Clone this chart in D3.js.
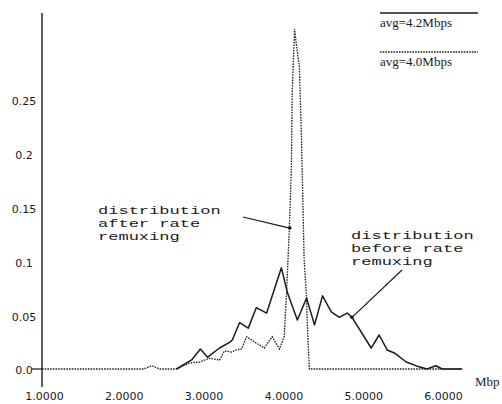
<!DOCTYPE html>
<html>
<head>
<meta charset="utf-8">
<script src="https://cdn.jsdelivr.net/npm/d3@7"></script>
<style>
  html, body { margin: 0; padding: 0; background: #fff; }
  svg { display: block; }
</style>
</head>
<body>
<svg id="chart" width="502" height="404"></svg>
<script>
// Rate distribution before remuxing (solid): [Mbps, fraction]
const beforeX = [2.66, 2.85, 2.96, 3.05, 3.20, 3.33, 3.36, 3.45, 3.56, 3.66, 3.79, 3.975, 4.05, 4.175, 4.29, 4.39, 4.49, 4.60, 4.70, 4.80, 4.86, 5.10, 5.20, 5.30, 5.39, 5.54, 5.70, 5.80, 5.91, 5.99, 6.24];
const beforeY = [0, 0.0084, 0.0186, 0.011, 0.0195, 0.025, 0.027, 0.043, 0.038, 0.057, 0.052, 0.094, 0.071, 0.0455, 0.066, 0.041, 0.068, 0.053, 0.048, 0.052, 0.048, 0.0195, 0.0316, 0.0177, 0.0149, 0.0065, 0.002, 0, 0.003, 0, 0];

// Rate distribution after remuxing (dotted)
const afterX = [0.975, 2.25, 2.35, 2.45, 2.66, 2.825, 2.95, 3.075, 3.20, 3.26, 3.35, 3.41, 3.475, 3.54, 3.64, 3.76, 3.86, 3.95, 4.01, 4.04, 4.075, 4.10, 4.11, 4.14, 4.16, 4.20, 4.225, 4.24, 4.26, 4.29, 4.30, 4.325, 6.24];
const afterY = [0, 0, 0.003, 0, 0, 0.0056, 0.0065, 0.010, 0.0084, 0.0167, 0.0158, 0.0177, 0.0186, 0.030, 0.025, 0.0195, 0.030, 0.0186, 0.030, 0.071, 0.132, 0.188, 0.256, 0.316, 0.303, 0.281, 0.219, 0.169, 0.101, 0.067, 0.041, 0, 0];

const xTicks = [1, 2, 3, 4, 5, 6];
const xTickLabels = ["1.0000", "2.0000", "3.0000", "4.0000", "5.0000", "6.0000"];
const yTicks = [0, 0.05, 0.1, 0.15, 0.2, 0.25];
const yTickLabels = ["0.0", "0.05", "0.1", "0.15", "0.2", "0.25"];

const legendLabels = ["avg=4.2Mbps", "avg=4.0Mbps"];
const noteAfter = ["distribution", "after rate", "remuxing"];
const noteBefore = ["distribution", "before rate", "remuxing"];

const svg = d3.select("#chart");
const x = d3.scaleLinear().domain([1, 6]).range([44, 443]);
const y = d3.scaleLinear().domain([0, 0.25]).range([369, 100]);

const ink = "#1a1a1a";
const dotInk = "#222";
const dotDash = "1.6,1.1";
const axisX = x(0.975);

// vertical axis line
svg.append("line")
  .attr("x1", axisX).attr("x2", axisX)
  .attr("y1", 13).attr("y2", 387)
  .attr("stroke", ink).attr("stroke-width", 1.4);

// zero tick
svg.append("line")
  .attr("x1", axisX - 10).attr("x2", axisX)
  .attr("y1", y(0)).attr("y2", y(0))
  .attr("stroke", ink).attr("stroke-width", 1.2);

// y tick labels
const yAxis = d3.axisLeft(y).tickValues(yTicks).tickSize(0).tickPadding(0)
  .tickFormat((d, i) => yTickLabels[i]);
const gy = svg.append("g").attr("transform", `translate(${axisX},0)`).call(yAxis);
gy.select(".domain").remove();
gy.selectAll("text")
  .attr("text-anchor", "middle")
  .attr("x", -18)
  .attr("dy", "0.45em")
  .attr("font-family", "DejaVu Sans, sans-serif")
  .attr("font-size", 11)
  .attr("fill", ink);

// x tick labels
const xAxis = d3.axisBottom(x).tickValues(xTicks).tickSize(0).tickPadding(23)
  .tickFormat((d, i) => xTickLabels[i]);
const gx = svg.append("g").attr("transform", `translate(0,${y(0)})`).call(xAxis);
gx.select(".domain").remove();
gx.selectAll("text")
  .attr("font-family", "DejaVu Sans, sans-serif")
  .attr("font-size", 11)
  .attr("fill", ink);

svg.append("text")
  .attr("x", 475).attr("y", 386)
  .attr("font-family", "Liberation Serif, serif")
  .attr("font-size", 13)
  .attr("fill", ink)
  .text("Mbp");

const line = d3.line().x(d => x(d[0])).y(d => y(d[1]));
const afterData = afterX.map((v, i) => [v, afterY[i]]);
const beforeData = beforeX.map((v, i) => [v, beforeY[i]]);

svg.append("path")
  .attr("d", line(afterData))
  .attr("fill", "none")
  .attr("stroke", dotInk)
  .attr("stroke-width", 1.3)
  .attr("stroke-dasharray", dotDash);

svg.append("path")
  .attr("d", line(beforeData))
  .attr("fill", "none")
  .attr("stroke", ink)
  .attr("stroke-width", 1.5)
  .attr("stroke-linejoin", "round");

// legend
const legend = svg.append("g");
[0, 1].forEach(i => {
  const ly = 13 + i * 39;
  legend.append("line")
    .attr("x1", 380).attr("x2", 478)
    .attr("y1", ly).attr("y2", ly)
    .attr("stroke", i === 0 ? ink : dotInk)
    .attr("stroke-width", i === 0 ? 1.6 : 1.3)
    .attr("stroke-dasharray", i === 0 ? null : dotDash);
  legend.append("text")
    .attr("x", 380).attr("y", ly + 14)
    .attr("font-family", "Liberation Serif, serif")
    .attr("font-size", 13)
    .attr("fill", ink)
    .text(legendLabels[i]);
});

// annotations: arrow from a text block to a point on a curve
function annotate(lines, tx, ty, tip, tail) {
  const px = x(tip[0]), py = y(tip[1]);
  svg.append("line")
    .attr("x1", tail[0]).attr("y1", tail[1])
    .attr("x2", px).attr("y2", py)
    .attr("stroke", ink).attr("stroke-width", 1.2);
  svg.append("circle")
    .attr("cx", px).attr("cy", py).attr("r", 1.8)
    .attr("fill", ink);
  const g = svg.append("g")
    .attr("transform", `translate(${tx},${ty}) scale(1.55,1)`);
  lines.forEach((t, i) => {
    g.append("text")
      .attr("x", 0).attr("y", i * 13)
      .attr("font-family", "Liberation Mono, monospace")
      .attr("font-size", 11)
      .attr("fill", ink)
      .text(t);
  });
}

annotate(noteAfter, 98, 214, [4.08, 0.131], [243, 217]);
annotate(noteBefore, 351, 239, [4.86, 0.048], [402, 270]);
</script>
</body>
</html>
